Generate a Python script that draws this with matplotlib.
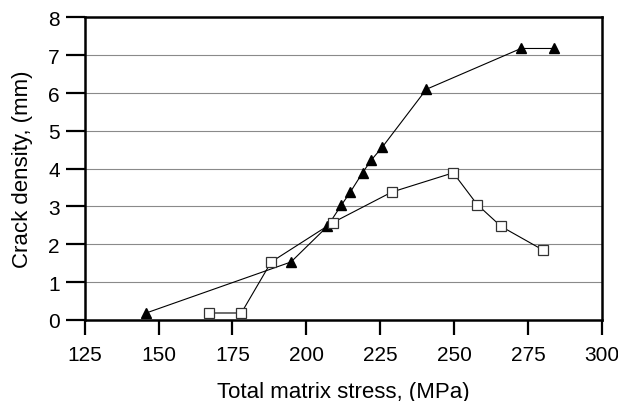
import matplotlib
matplotlib.use("Agg")
import matplotlib.pyplot as plt

# serie con triangulos
stress_tri = [145.8, 194.8, 207.1, 211.8, 214.8, 219.0, 221.9, 225.7, 240.6, 272.6, 283.7]
crack_tri  = [0.18, 1.53, 2.47, 3.03, 3.37, 3.89, 4.22, 4.57, 6.10, 7.18, 7.18]

# serie con cuadrados
stress_sq = [167.0, 178.0, 188.1, 208.9, 228.9, 249.7, 257.8, 265.9, 280.2]
crack_sq  = [0.18, 0.18, 1.53, 2.57, 3.38, 3.89, 3.05, 2.47, 1.84]

x_ticks = [125, 150, 175, 200, 225, 250, 275, 300]
y_ticks = [0, 1, 2, 3, 4, 5, 6, 7, 8]

plt.rcParams["font.family"] = ["Liberation Sans", "DejaVu Sans"]

fig = plt.figure(figsize=(6.18, 4.02), dpi=100)
ax = fig.add_axes([0.137, 0.202, 0.837, 0.752])

for y in y_ticks[1:-1]:
    ax.axhline(y, color="#8a8a8a", linewidth=0.8, zorder=1)

ax.plot(stress_tri, crack_tri, "-", color="black", linewidth=0.8,
        marker="^", markersize=6.5, markerfacecolor="black",
        markeredgecolor="black", zorder=3)
ax.plot(stress_sq, crack_sq, "-", color="black", linewidth=0.8,
        marker="s", markersize=7.5, markerfacecolor="white",
        markeredgecolor="#333333", markeredgewidth=0.9, zorder=3)

ax.set_xlim(125, 300)
ax.set_ylim(0, 8)
ax.set_xticks(x_ticks)
ax.set_yticks(y_ticks)
ax.tick_params(axis="x", direction="out", length=11, width=1.6, labelsize=15, pad=7.5)
ax.tick_params(axis="y", direction="out", length=14, width=1.6, labelsize=15, pad=4)
for s in ax.spines.values():
    s.set_linewidth(1.8)

ax.set_xlabel("Total matrix stress, (MPa)", fontsize=16, labelpad=12)
ax.set_ylabel("Crack density, (mm)", fontsize=16, labelpad=11)

fig.savefig("out.png", dpi=100)
